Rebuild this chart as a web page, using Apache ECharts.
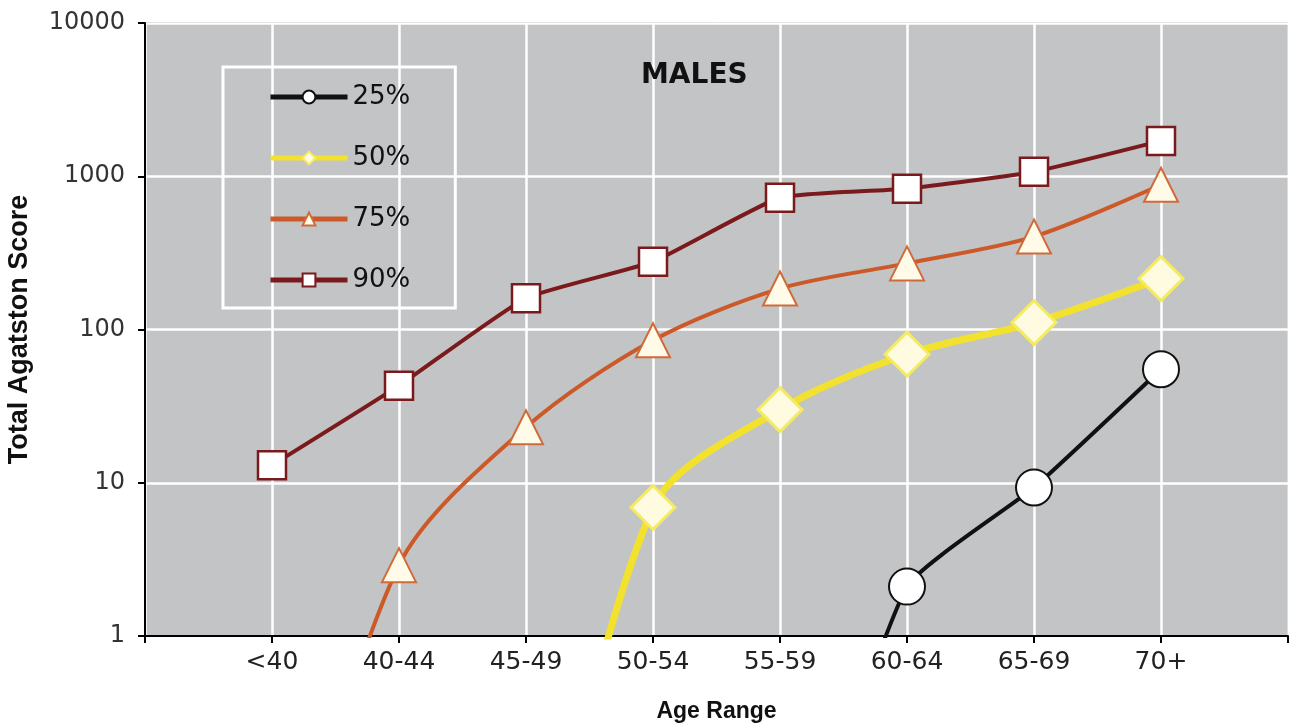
<!DOCTYPE html>
<html>
<head>
<meta charset="utf-8">
<script src="https://cdn.jsdelivr.net/npm/echarts@6/dist/echarts.min.js"></script>
<style>
html,body{margin:0;padding:0;background:#fff;}
#chart{width:1297px;height:728px;}
</style>
</head>
<body>
<div id="chart"></div>
<script>
var categories = ['', '<40', '40-44', '45-49', '50-54', '55-59', '60-64', '65-69', '70+', ''];
var p25 = [null, null, null, null, null, 0.01, 2.1, 9.3, 55, null];
var p50 = [null, null, null, 0.006, 6.9, 30, 69, 111, 215, null];
var p75 = [null, 0.008, 2.9, 23, 85, 185, 270, 404, 880, null];
var p90 = [null, 13, 43, 160, 277, 724, 830, 1070, 1700, null];
var yTicks = [1, 10, 100, 1000, 10000];

var font = 'DejaVu Sans';
var chart = echarts.init(document.getElementById('chart'));
chart.setOption({
  animation: false,
  backgroundColor: '#ffffff',
  title: {
    text: 'MALES',
    left: 636, top: 57,
    textStyle: {fontFamily: 'DejaVu Sans', fontWeight: 'bold', fontSize: 28, color: '#111'}
  },
  legend: {
    orient: 'vertical',
    left: 223, top: 67,
    padding: [17, 45, 15, 45],
    borderColor: '#ffffff', borderWidth: 3,
    itemWidth: 77, itemHeight: 16, itemGap: 35,
    lineStyle: {width: 5},
    textStyle: {fontFamily: font, fontSize: 26, color: '#111', lineHeight: 26},
    data: ['25%', '50%', '75%', '90%']
  },
  grid: {
    left: 145, right: 9, top: 23, bottom: 92,
    outerBoundsMode: 'none',
    containLabel: false,
    show: true, backgroundColor: '#c3c4c6', borderColor: '#222', borderWidth: 1
  },
  xAxis: {
    type: 'category',
    data: categories,
    boundaryGap: false,
    name: 'Age Range',
    nameLocation: 'middle',
    nameGap: 64,
    nameTextStyle: {fontFamily: 'Liberation Sans', fontWeight: 'bold', fontSize: 23, color: '#111'},
    axisLine: {lineStyle: {color: '#000', width: 2}},
    axisTick: {show: true, alignWithLabel: true, length: 7, lineStyle: {color: '#000', width: 2}},
    axisLabel: {fontFamily: font, fontSize: 25, color: '#222', margin: 14, interval: 0},
    splitLine: {show: true, lineStyle: {color: '#ffffff', width: 2.5}}
  },
  yAxis: {
    type: 'log',
    logBase: 10,
    min: yTicks[0], max: yTicks[yTicks.length - 1],
    name: 'Total Agatston Score',
    nameLocation: 'middle',
    nameGap: 112,
    nameTextStyle: {fontFamily: 'Liberation Sans', fontWeight: 'bold', fontSize: 27, color: '#111'},
    axisLine: {show: true, lineStyle: {color: '#000', width: 2}},
    axisTick: {show: true, length: 7, lineStyle: {color: '#000', width: 2}},
    axisLabel: {fontFamily: font, fontSize: 24, color: '#333', margin: 20,
      formatter: function (v) { return String(Math.round(v)); }},
    splitLine: {show: true, lineStyle: {color: '#ffffff', width: 2.5}},
    minorTick: {show: false}
  },
  series: [
    {
      name: '25%', type: 'line', data: p25, smooth: 0.15, clip: true,
      lineStyle: {color: '#111', width: 4},
      itemStyle: {color: '#ffffff', borderColor: '#111', borderWidth: 2},
      symbol: 'circle', symbolSize: 36, z: 5
    },
    {
      name: '50%', type: 'line', data: p50, smooth: 0.3, clip: true,
      lineStyle: {color: '#f2e22e', width: 7},
      itemStyle: {color: '#fffbe0', borderColor: '#f5eb60', borderWidth: 3},
      symbol: 'diamond', symbolSize: 44, z: 4
    },
    {
      name: '75%', type: 'line', data: p75, smooth: 0.3, clip: true,
      lineStyle: {color: '#cc5a28', width: 4},
      itemStyle: {color: '#fffbe8', borderColor: '#d06a3a', borderWidth: 2},
      symbol: 'triangle', symbolSize: 34, z: 3
    },
    {
      name: '90%', type: 'line', data: p90, smooth: 0.15, clip: true,
      lineStyle: {color: '#7a1a1c', width: 4},
      itemStyle: {color: '#ffffff', borderColor: '#7a1a1c', borderWidth: 2.5},
      symbol: 'rect', symbolSize: 28, z: 2
    }
  ]
});
</script>
</body>
</html>
